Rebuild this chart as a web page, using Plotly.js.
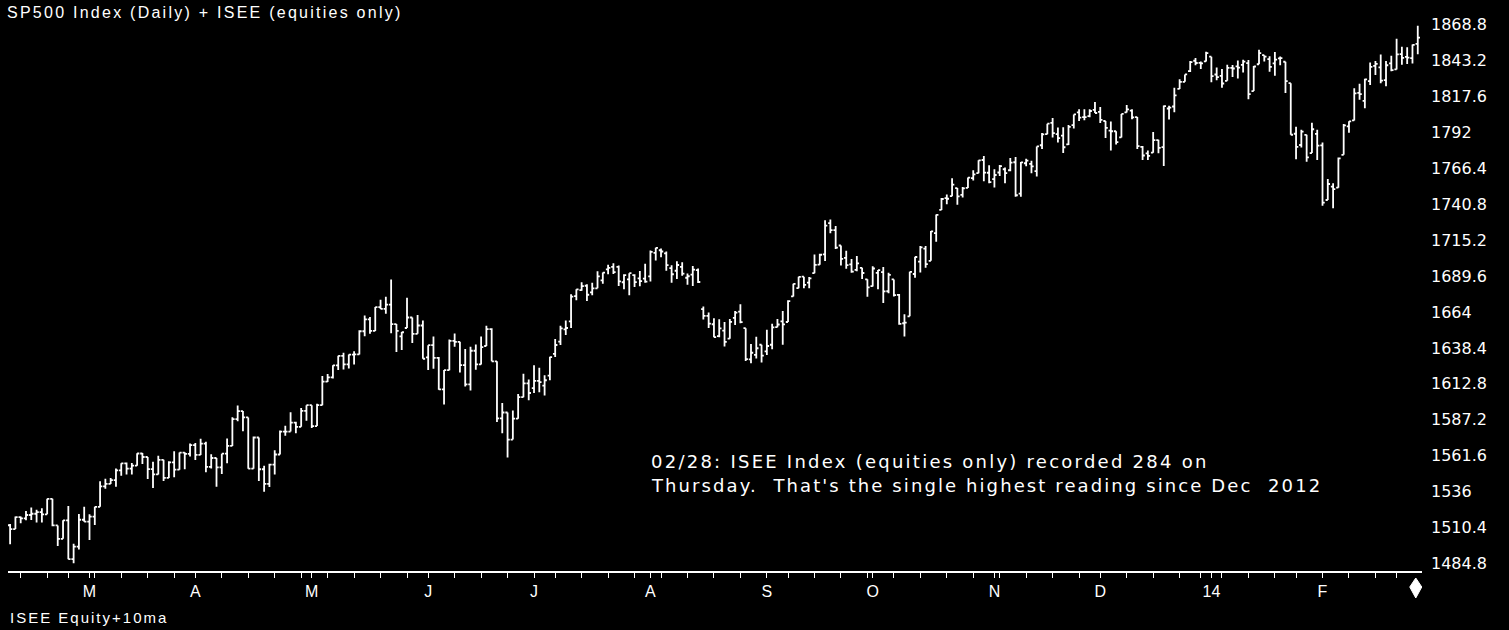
<!DOCTYPE html>
<html>
<head>
<meta charset="utf-8">
<script src="https://cdn.plot.ly/plotly-3.0.1.min.js"></script>
<style>html,body{margin:0;padding:0;background:#000;}#chart{width:1509px;height:630px;}</style>
</head>
<body>
<div id="chart"></div>
<script>
// ---- DATA: S&P 500 daily bars, Feb 2013 - Feb 2014 ----
const dates = [
"2013-02-07","2013-02-08","2013-02-11","2013-02-12","2013-02-13","2013-02-14","2013-02-15","2013-02-19","2013-02-20","2013-02-21","2013-02-22","2013-02-25","2013-02-26","2013-02-27","2013-02-28",
"2013-03-01","2013-03-04","2013-03-05","2013-03-06","2013-03-07","2013-03-08","2013-03-11","2013-03-12","2013-03-13","2013-03-14","2013-03-15","2013-03-18","2013-03-19","2013-03-20","2013-03-21","2013-03-22","2013-03-25","2013-03-26","2013-03-27","2013-03-28",
"2013-04-01","2013-04-02","2013-04-03","2013-04-04","2013-04-05","2013-04-08","2013-04-09","2013-04-10","2013-04-11","2013-04-12","2013-04-15","2013-04-16","2013-04-17","2013-04-18","2013-04-19","2013-04-22","2013-04-23","2013-04-24","2013-04-25","2013-04-26","2013-04-29","2013-04-30",
"2013-05-01","2013-05-02","2013-05-03","2013-05-06","2013-05-07","2013-05-08","2013-05-09","2013-05-10","2013-05-13","2013-05-14","2013-05-15","2013-05-16","2013-05-17","2013-05-20","2013-05-21","2013-05-22","2013-05-23","2013-05-24","2013-05-28","2013-05-29","2013-05-30","2013-05-31",
"2013-06-03","2013-06-04","2013-06-05","2013-06-06","2013-06-07","2013-06-10","2013-06-11","2013-06-12","2013-06-13","2013-06-14","2013-06-17","2013-06-18","2013-06-19","2013-06-20","2013-06-21","2013-06-24","2013-06-25","2013-06-26","2013-06-27","2013-06-28",
"2013-07-01","2013-07-02","2013-07-03","2013-07-05","2013-07-08","2013-07-09","2013-07-10","2013-07-11","2013-07-12","2013-07-15","2013-07-16","2013-07-17","2013-07-18","2013-07-19","2013-07-22","2013-07-23","2013-07-24","2013-07-25","2013-07-26","2013-07-29","2013-07-30","2013-07-31",
"2013-08-01","2013-08-02","2013-08-05","2013-08-06","2013-08-07","2013-08-08","2013-08-09","2013-08-12","2013-08-13","2013-08-14","2013-08-15","2013-08-16","2013-08-19","2013-08-20","2013-08-21","2013-08-22","2013-08-23","2013-08-26","2013-08-27","2013-08-28","2013-08-29","2013-08-30",
"2013-09-03","2013-09-04","2013-09-05","2013-09-06","2013-09-09","2013-09-10","2013-09-11","2013-09-12","2013-09-13","2013-09-16","2013-09-17","2013-09-18","2013-09-19","2013-09-20","2013-09-23","2013-09-24","2013-09-25","2013-09-26","2013-09-27","2013-09-30",
"2013-10-01","2013-10-02","2013-10-03","2013-10-04","2013-10-07","2013-10-08","2013-10-09","2013-10-10","2013-10-11","2013-10-14","2013-10-15","2013-10-16","2013-10-17","2013-10-18","2013-10-21","2013-10-22","2013-10-23","2013-10-24","2013-10-25","2013-10-28","2013-10-29","2013-10-30","2013-10-31",
"2013-11-01","2013-11-04","2013-11-05","2013-11-06","2013-11-07","2013-11-08","2013-11-11","2013-11-12","2013-11-13","2013-11-14","2013-11-15","2013-11-18","2013-11-19","2013-11-20","2013-11-21","2013-11-22","2013-11-25","2013-11-26","2013-11-27","2013-11-29",
"2013-12-02","2013-12-03","2013-12-04","2013-12-05","2013-12-06","2013-12-09","2013-12-10","2013-12-11","2013-12-12","2013-12-13","2013-12-16","2013-12-17","2013-12-18","2013-12-19","2013-12-20","2013-12-23","2013-12-24","2013-12-26","2013-12-27","2013-12-30","2013-12-31",
"2014-01-02","2014-01-03","2014-01-06","2014-01-07","2014-01-08","2014-01-09","2014-01-10","2014-01-13","2014-01-14","2014-01-15","2014-01-16","2014-01-17","2014-01-21","2014-01-22","2014-01-23","2014-01-24","2014-01-27","2014-01-28","2014-01-29","2014-01-30","2014-01-31",
"2014-02-03","2014-02-04","2014-02-05","2014-02-06","2014-02-07","2014-02-10","2014-02-11","2014-02-12","2014-02-13","2014-02-14","2014-02-18","2014-02-19","2014-02-20","2014-02-21","2014-02-24","2014-02-25","2014-02-26","2014-02-27","2014-02-28"
];
const opens = [
1512.1,1509.4,1517.9,1517.0,1519.4,1520.3,1521.4,1519.8,1530.9,1512.0,1502.4,1515.6,1487.9,1496.9,1516.0,
1514.7,1518.2,1525.2,1539.8,1541.5,1544.3,1551.2,1556.2,1552.5,1554.5,1563.2,1560.7,1552.1,1548.3,1558.7,1545.8,1556.9,1551.7,1563.8,1562.9,
1569.2,1562.2,1570.3,1553.7,1560.0,1553.3,1563.1,1568.6,1587.7,1593.4,1588.9,1552.4,1574.6,1552.0,1541.6,1555.3,1562.5,1578.8,1578.8,1585.2,1582.2,1593.6,
1597.6,1582.7,1597.6,1614.4,1617.5,1626.0,1632.7,1626.7,1633.7,1633.8,1650.3,1658.8,1650.5,1667.5,1666.3,1669.2,1655.4,1646.7,1652.6,1660.1,1648.4,1654.4,
1631.7,1640.4,1631.4,1608.9,1622.6,1643.4,1642.8,1626.1,1612.5,1636.4,1626.7,1639.8,1651.8,1628.9,1588.2,1592.4,1573.1,1588.0,1603.3,1613.2,
1609.8,1615.0,1611.5,1618.7,1634.2,1642.9,1651.6,1657.4,1675.3,1679.6,1682.7,1678.0,1680.9,1686.6,1694.4,1696.1,1696.1,1685.2,1687.3,1690.3,1687.9,1687.8,
1689.4,1706.1,1708.0,1705.8,1695.3,1693.4,1696.1,1688.4,1690.7,1693.9,1666.0,1661.2,1655.3,1646.8,1650.7,1645.0,1659.9,1664.3,1652.5,1630.3,1633.5,1640.7,
1635.9,1640.7,1653.3,1657.4,1656.9,1675.1,1681.0,1689.2,1685.0,1691.7,1697.7,1705.0,1727.3,1722.4,1711.4,1702.6,1698.0,1694.0,1695.5,1687.3,
1682.4,1691.9,1692.4,1678.8,1687.2,1676.2,1656.0,1660.9,1691.1,1699.9,1709.2,1700.5,1720.2,1736.7,1745.2,1746.5,1752.3,1747.5,1752.4,1759.4,1762.9,1772.3,1763.2,
1758.7,1763.4,1765.7,1765.0,1770.7,1748.4,1770.0,1769.5,1764.4,1782.8,1790.7,1798.8,1790.8,1789.6,1783.5,1797.2,1806.3,1802.9,1803.5,1808.0,
1806.6,1800.1,1793.2,1792.8,1788.4,1806.2,1807.5,1802.8,1781.7,1777.0,1777.5,1786.5,1781.5,1809.0,1810.4,1822.9,1828.0,1835.6,1843.0,1841.5,1842.6,
1845.9,1833.2,1832.3,1828.7,1837.9,1839.0,1840.1,1841.3,1821.4,1840.5,1847.0,1844.2,1841.1,1844.7,1842.3,1827.0,1791.0,1783.0,1790.2,1777.2,1790.9,
1782.7,1743.8,1753.4,1752.6,1776.0,1796.2,1800.5,1820.1,1814.4,1828.5,1839.3,1838.3,1829.2,1841.1,1836.8,1847.7,1845.8,1844.9,1855.1
];
const highs = [
1512.9,1518.3,1518.3,1522.3,1524.7,1523.1,1524.2,1530.9,1530.9,1512.0,1515.6,1525.8,1499.0,1520.1,1525.3,
1520.0,1525.3,1543.5,1545.3,1545.8,1552.5,1556.3,1556.8,1556.4,1563.3,1563.6,1560.7,1557.3,1561.6,1558.7,1557.7,1564.9,1563.9,1564.1,1570.3,
1570.6,1573.7,1571.5,1562.6,1560.0,1563.1,1573.9,1589.1,1597.4,1593.4,1588.9,1575.4,1574.6,1554.4,1555.9,1565.6,1579.6,1583.0,1592.6,1585.8,1595.6,1597.6,
1597.6,1598.6,1618.5,1619.8,1626.0,1632.8,1635.0,1633.7,1636.0,1651.1,1661.5,1660.5,1667.5,1672.8,1674.9,1687.2,1655.4,1649.8,1674.2,1660.1,1661.9,1658.0,
1640.4,1646.5,1632.0,1622.7,1644.4,1648.7,1642.8,1637.7,1639.3,1640.8,1646.5,1654.2,1652.5,1628.9,1599.2,1592.4,1593.8,1605.6,1620.1,1615.9,
1626.0,1624.3,1618.9,1632.1,1644.7,1654.2,1657.9,1676.6,1680.2,1685.2,1683.7,1684.8,1693.1,1692.1,1697.6,1698.8,1697.2,1690.9,1691.7,1690.9,1693.2,1698.4,
1707.9,1709.7,1709.2,1707.1,1697.4,1700.2,1699.4,1691.5,1696.8,1695.0,1668.0,1663.6,1659.6,1658.9,1656.9,1659.0,1664.8,1669.5,1652.5,1641.2,1646.4,1640.7,
1651.4,1655.7,1659.1,1664.8,1672.4,1684.1,1689.1,1689.1,1689.0,1704.9,1705.5,1729.4,1729.9,1725.2,1711.4,1707.6,1701.7,1703.9,1695.5,1687.3,
1696.6,1693.9,1696.0,1691.9,1687.2,1676.8,1662.5,1692.6,1703.4,1711.0,1711.0,1721.8,1733.5,1745.3,1747.8,1759.3,1752.3,1753.0,1759.8,1765.0,1772.1,1775.2,1768.5,
1765.7,1768.8,1767.0,1773.7,1774.5,1770.8,1773.2,1771.8,1782.0,1791.5,1798.2,1802.3,1795.5,1795.6,1797.3,1804.8,1808.4,1808.4,1808.4,1813.6,
1810.0,1800.1,1799.8,1792.8,1805.1,1811.5,1808.4,1802.9,1782.2,1779.0,1792.2,1786.8,1811.1,1810.9,1823.8,1829.8,1833.3,1842.8,1844.9,1842.5,1849.4,
1845.9,1838.2,1837.2,1840.1,1840.0,1843.2,1843.8,1843.5,1839.3,1850.8,1847.0,1846.2,1849.3,1846.0,1842.3,1827.0,1796.0,1793.9,1790.2,1798.8,1793.9,
1784.8,1758.7,1755.8,1774.1,1798.0,1799.9,1823.5,1826.6,1830.1,1841.7,1842.9,1847.5,1842.9,1846.5,1858.7,1852.9,1852.7,1854.5,1867.9
];
const lows = [
1498.5,1509.4,1513.6,1515.6,1515.9,1514.0,1514.1,1520.0,1511.4,1497.3,1502.4,1487.9,1485.0,1494.9,1514.5,
1501.5,1512.3,1525.2,1538.1,1541.5,1539.5,1547.4,1548.2,1548.3,1554.5,1555.7,1545.1,1538.6,1548.3,1543.6,1545.8,1546.2,1551.7,1551.9,1561.1,
1558.5,1562.2,1549.8,1552.5,1539.5,1548.6,1556.3,1568.6,1586.2,1579.0,1552.3,1552.4,1543.7,1536.0,1539.4,1548.2,1562.5,1575.8,1578.8,1577.6,1582.3,1586.5,
1581.3,1582.8,1597.6,1614.2,1616.6,1622.7,1623.1,1623.7,1626.7,1633.8,1646.7,1648.6,1650.5,1666.1,1662.7,1648.9,1635.5,1636.9,1652.6,1642.0,1648.6,1630.7,
1622.7,1623.6,1608.7,1598.2,1622.6,1639.3,1621.0,1610.9,1608.1,1622.9,1626.7,1639.8,1628.9,1585.6,1577.7,1560.3,1573.1,1588.0,1603.3,1601.1,
1606.3,1606.8,1604.6,1615.4,1631.9,1640.5,1647.7,1652.6,1672.3,1679.2,1671.8,1676.0,1680.9,1684.1,1690.9,1691.0,1682.6,1680.2,1676.0,1681.9,1682.4,1684.9,
1685.7,1700.7,1703.0,1693.4,1684.9,1687.6,1689.9,1683.4,1682.6,1684.6,1658.6,1652.6,1646.1,1646.1,1639.4,1645.0,1654.8,1656.0,1629.1,1627.5,1630.9,1628.1,
1633.4,1637.4,1653.1,1640.6,1656.9,1675.1,1681.0,1681.0,1681.0,1691.7,1697.7,1700.4,1720.2,1708.9,1697.1,1694.9,1691.9,1693.1,1687.5,1674.9,
1682.1,1680.3,1670.4,1677.3,1675.0,1655.0,1646.5,1660.9,1688.5,1692.1,1695.5,1700.5,1714.1,1736.7,1740.7,1746.5,1740.5,1745.5,1752.4,1757.7,1762.9,1757.2,1755.7,
1752.7,1760.9,1755.8,1764.2,1746.2,1746.2,1767.8,1762.9,1760.6,1780.2,1790.6,1788.4,1784.7,1777.2,1783.0,1794.7,1800.0,1800.6,1802.8,1805.8,
1798.6,1787.9,1779.1,1783.4,1788.4,1806.2,1801.4,1780.1,1772.3,1772.3,1777.5,1777.1,1768.0,1801.2,1806.4,1822.9,1828.0,1835.0,1839.8,1837.2,1842.4,
1827.7,1829.1,1823.7,1828.7,1831.4,1830.4,1834.6,1815.5,1821.4,1840.5,1842.4,1835.2,1832.4,1839.8,1820.1,1790.3,1772.9,1781.2,1771.0,1777.2,1772.3,
1739.7,1743.8,1737.9,1752.6,1776.0,1791.8,1800.5,1815.2,1809.2,1825.8,1832.8,1827.0,1824.9,1835.6,1836.8,1840.2,1840.7,1841.1,1847.7
];
const closes = [
1509.4,1517.9,1517.0,1519.4,1520.3,1521.4,1519.8,1530.9,1512.0,1502.4,1515.6,1487.9,1496.9,1516.0,1514.7,
1518.2,1525.2,1539.8,1541.5,1544.3,1551.2,1556.2,1552.5,1554.5,1563.2,1560.7,1552.1,1548.3,1558.7,1545.8,1556.9,1551.7,1563.8,1562.9,1569.2,
1562.2,1570.3,1553.7,1560.0,1553.3,1563.1,1568.6,1587.7,1593.4,1588.9,1552.4,1574.6,1552.0,1541.6,1555.3,1562.5,1578.8,1578.8,1585.2,1582.2,1593.6,1597.6,
1582.7,1597.6,1614.4,1617.5,1626.0,1632.7,1626.7,1633.7,1633.8,1650.3,1658.8,1650.5,1667.5,1666.3,1669.2,1655.4,1650.5,1649.6,1660.1,1648.4,1654.4,1630.7,
1640.4,1631.4,1608.9,1622.6,1643.4,1642.8,1626.1,1612.5,1636.4,1626.7,1639.0,1651.8,1628.9,1588.2,1592.4,1573.1,1588.0,1603.3,1613.2,1606.3,
1615.0,1614.1,1615.4,1631.9,1640.5,1652.3,1652.6,1675.0,1680.2,1682.5,1676.3,1680.9,1689.4,1692.1,1695.5,1692.4,1685.9,1690.3,1691.7,1685.3,1686.0,1685.7,
1706.9,1709.7,1707.1,1697.4,1690.9,1697.5,1691.4,1689.5,1694.2,1685.4,1661.3,1655.8,1646.1,1652.4,1642.8,1657.0,1663.5,1656.8,1630.5,1635.0,1638.2,1633.0,
1639.8,1653.1,1655.1,1655.2,1671.7,1684.0,1689.1,1683.4,1688.0,1697.6,1704.8,1725.5,1722.3,1709.9,1701.8,1697.4,1692.8,1698.7,1691.8,1681.6,
1695.0,1693.9,1678.7,1690.5,1676.1,1655.5,1656.4,1692.6,1703.2,1710.1,1698.1,1721.5,1733.2,1744.5,1744.7,1754.7,1746.4,1752.1,1759.8,1762.1,1772.0,1763.3,1756.5,
1761.6,1767.9,1763.0,1770.5,1747.2,1770.6,1771.9,1767.7,1782.0,1790.6,1798.2,1791.5,1787.9,1781.4,1795.9,1804.8,1802.5,1802.8,1807.2,1805.8,
1800.9,1795.2,1792.8,1785.0,1805.1,1808.4,1802.6,1782.2,1775.5,1775.3,1786.5,1781.0,1810.7,1809.6,1818.3,1828.0,1833.3,1842.0,1841.4,1841.1,1848.4,
1832.0,1831.4,1826.8,1837.9,1837.5,1838.1,1842.4,1819.2,1838.9,1848.4,1845.9,1838.7,1843.8,1844.9,1828.5,1790.3,1781.6,1792.5,1774.2,1794.2,1782.6,
1741.9,1755.2,1751.6,1773.4,1797.0,1799.8,1819.8,1819.3,1829.8,1838.6,1840.8,1828.8,1839.8,1836.3,1847.6,1845.1,1845.2,1854.3,1859.5
];
const monthLabels = ["M","A","M","J","J","A","S","O","N","D","14","F"];
const yTickVals = [1484.8,1510.4,1536,1561.6,1587.2,1612.8,1638.4,1664,1689.6,1715.2,1740.8,1766.4,1792,1817.6,1843.2,1868.8];
const yTickText = ["1484.8","1510.4","1536","1561.6","1587.2","1612.8","1638.4","1664","1689.6","1715.2","1740.8","1766.4","1792","1817.6","1843.2","1868.8"];
const titleText = "SP500 Index (Daily) + ISEE (equities only)";
const noteLines = ["02/28: ISEE Index (equities only) recorded 284 on",
                   "Thursday.\u00a0 That's the single highest reading since Dec\u00a0 2012"];
const lowerPaneText = "ISEE Equity+10ma";

// ---- derived positions (trading-day index) ----
const idx = dates.map((d, i) => i);
const dayNum = dates.map(d => Math.round(Date.parse(d + "T00:00:00Z") / 86400000));
const weekStarts = [], monthStarts = [];
for (let i = 1; i < dates.length; i++) {
  const wk = Math.floor((dayNum[i] + 3) / 7);
  const pwk = Math.floor((dayNum[i - 1] + 3) / 7);
  if (wk !== pwk) weekStarts.push(i);
  if (dates[i].slice(0, 7) !== dates[i - 1].slice(0, 7)) monthStarts.push(i);
}
const tickMap = new Map();
weekStarts.forEach(w => tickMap.set(w, ""));
monthStarts.forEach((m, k) => tickMap.set(m, monthLabels[k]));
const xTickVals = Array.from(tickMap.keys()).sort((a, b) => a - b);
const xTickText = xTickVals.map(v => tickMap.get(v));

const sans = "Liberation Sans, Arial, sans-serif";
const narrow = "Liberation Sans Narrow, Arial Narrow, Liberation Sans, sans-serif";
const spaced = (s, px) => '<span style="letter-spacing:' + px + 'px">' + s + '</span>';

const trace = {
  type: "ohlc",
  x: idx, open: opens, high: highs, low: lows, close: closes,
  increasing: {line: {color: "#ffffff", width: 1.8}},
  decreasing: {line: {color: "#ffffff", width: 1.8}},
  tickwidth: 0.42,
  hoverinfo: "skip",
  showlegend: false
};

const noteFont = {family: "DejaVu Sans, sans-serif", size: 18, color: "#ffffff"};

const layout = {
  width: 1509, height: 630,
  paper_bgcolor: "#000000", plot_bgcolor: "#000000",
  margin: {l: 8, r: 87, t: 15, b: 59, pad: 0},
  showlegend: false,
  title: {text: spaced(titleText, 2.25), x: 7 / 1509, xref: "container", xanchor: "left", y: 1 - 12 / 630, yref: "container", yanchor: "middle",
          font: {family: sans, size: 16, color: "#ffffff"}},
  xaxis: {
    range: [-0.4, 266.8], fixedrange: true, rangeslider: {visible: false},
    showgrid: false, zeroline: false,
    showline: true, linecolor: "#ffffff", linewidth: 2,
    ticks: "outside", ticklen: 5, tickwidth: 1, tickcolor: "#ffffff",
    tickmode: "array", tickvals: xTickVals, ticktext: xTickText,
    tickfont: {family: narrow, size: 16, color: "#ffffff"}
  },
  yaxis: {
    side: "right", range: [1479.5, 1875.6], fixedrange: true,
    showgrid: false, zeroline: false, showline: false, ticks: "",
    tickmode: "array", tickvals: yTickVals, ticktext: yTickText,
    ticklabelstandoff: 8,
    tickfont: {family: "DejaVu Sans, sans-serif", size: 16, color: "#ffffff"}
  },
  annotations: [
    {text: spaced(noteLines[0], 2.25), xref: "paper", yref: "paper", x: (649 - 8) / 1414, y: (571 - 461) / 556,
     xanchor: "left", yanchor: "middle", align: "left", showarrow: false, font: noteFont},
    {text: spaced(noteLines[1], 2.1), xref: "paper", yref: "paper", x: (649 - 8) / 1414, y: (571 - 485) / 556,
     xanchor: "left", yanchor: "middle", align: "left", showarrow: false, font: noteFont},
    {text: spaced(lowerPaneText, 2.0), xref: "paper", yref: "paper", x: 0, y: (571 - 617) / 556,
     xanchor: "left", yanchor: "middle", align: "left", showarrow: false,
     font: {family: sans, size: 15, color: "#ffffff"}}
  ],
  shapes: [
    {type: "path", xref: "x", yref: "paper", xsizemode: "pixel", ysizemode: "pixel",
     xanchor: 266, yanchor: 0, path: "M -2,-7 L 4,-16 L -2,-27 L -8,-16 Z",
     fillcolor: "#ffffff", line: {color: "#ffffff", width: 1}}
  ]
};

Plotly.newPlot("chart", [trace], layout, {displayModeBar: false, staticPlot: true});
</script>
</body>
</html>
